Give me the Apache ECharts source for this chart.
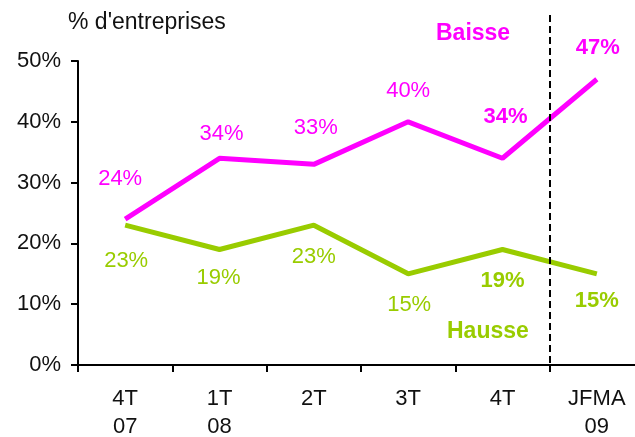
<!DOCTYPE html>
<html>
<head>
<meta charset="utf-8">
<script src="https://cdn.jsdelivr.net/npm/echarts@6/dist/echarts.min.js"></script>
<style>
  html, body { margin: 0; padding: 0; background: #fff; }
  #main { width: 635px; height: 437px; }
</style>
</head>
<body>
<div id="main"></div>
<script>
// données
const categories = ['4T\n07', '1T\n08', '2T', '3T', '4T', 'JFMA\n09'];
const baisse = [24, 34, 33, 40, 34, 47];
const hausse = [23, 19, 23, 15, 19, 15];
const yTicks = [0, 10, 20, 30, 40, 50];

const FONT = 'Liberation Sans, Arial, sans-serif';
const FS = 22;
const MAGENTA = '#ff00ff';
const GREEN = '#99cc00';

// décalage des étiquettes par rapport aux points (px)
const baisseOffsets = [[-5, -40], [2, -24], [2, -36], [0, -31], [3, -41], [1, -31]];
const hausseOffsets = [[1, 36], [-1, 28], [0, 32], [1, 31], [0, 31], [0, 27]];

function buildData(values, offsets) {
    return values.map((v, i) => ({
        value: v,
        label: {
            offset: offsets[i],
            fontWeight: i >= 4 ? 'bold' : 'normal'
        }
    }));
}

const chart = echarts.init(document.getElementById('main'), null, { renderer: 'canvas' });

const lineSeries = (name, values, offsets, color) => ({
    name: name,
    type: 'line',
    data: buildData(values, offsets),
    symbol: 'circle',
    symbolSize: 0,
    showSymbol: true,
    silent: true,
    animation: false,
    lineStyle: { color: color, width: 5 },
    itemStyle: { color: color },
    label: {
        show: true,
        position: 'inside',
        formatter: p => p.value + '%',
        color: color,
        fontSize: FS,
        fontFamily: FONT
    }
});

let option = {
    animation: false,
    grid: { left: 78, right: -9, top: 61, bottom: 72, outerBoundsMode: 'none', containLabel: false },
    xAxis: {
        type: 'category',
        data: categories,
        boundaryGap: true,
        axisLine: { lineStyle: { color: '#000', width: 2 } },
        axisTick: { show: true, length: 7, inside: false, lineStyle: { color: '#000', width: 2 } },
        axisLabel: {
            color: '#111',
            fontSize: FS,
            fontFamily: FONT,
            lineHeight: 28,
            margin: 20,
            interval: 0
        },
        splitLine: { show: false }
    },
    yAxis: {
        type: 'value',
        min: yTicks[0],
        max: yTicks[yTicks.length - 1],
        interval: 10,
        axisLine: { show: true, lineStyle: { color: '#000', width: 2 } },
        axisTick: { show: true, length: 7, lineStyle: { color: '#000', width: 2 } },
        axisLabel: {
            color: '#111',
            fontSize: FS,
            fontFamily: FONT,
            margin: 17,
            formatter: v => v + '%'
        },
        splitLine: { show: false }
    },
    series: [
        lineSeries('Hausse', hausse, hausseOffsets, GREEN),
        lineSeries('Baisse', baisse, baisseOffsets, MAGENTA)
    ]
};

chart.setOption(option);

// ligne pointillée entre 4T et JFMA, titres et noms des séries
const p4 = chart.convertToPixel({ xAxisIndex: 0, yAxisIndex: 0 }, [4, 0]);
const p5 = chart.convertToPixel({ xAxisIndex: 0, yAxisIndex: 0 }, [5, 0]);
const xSep = Math.round((p4[0] + p5[0]) / 2);

chart.setOption({
    graphic: [
        {
            type: 'line',
            shape: { x1: xSep, y1: 15, x2: xSep, y2: p4[1] },
            style: { stroke: '#000', lineWidth: 2, lineDash: [7, 4] },
            z: 10
        },
        {
            type: 'text',
            left: 68, top: 11,
            style: { text: "% d'entreprises", fill: '#111', font: '23px ' + FONT }
        },
        {
            type: 'text',
            left: 436, top: 22,
            style: { text: 'Baisse', fill: MAGENTA, font: 'bold ' + (FS + 1) + 'px ' + FONT }
        },
        {
            type: 'text',
            left: 447, top: 320,
            style: { text: 'Hausse', fill: GREEN, font: 'bold ' + (FS + 1) + 'px ' + FONT }
        }
    ]
});

window.addEventListener('resize', function () {
    chart.resize();
});
</script>
</body>
</html>
